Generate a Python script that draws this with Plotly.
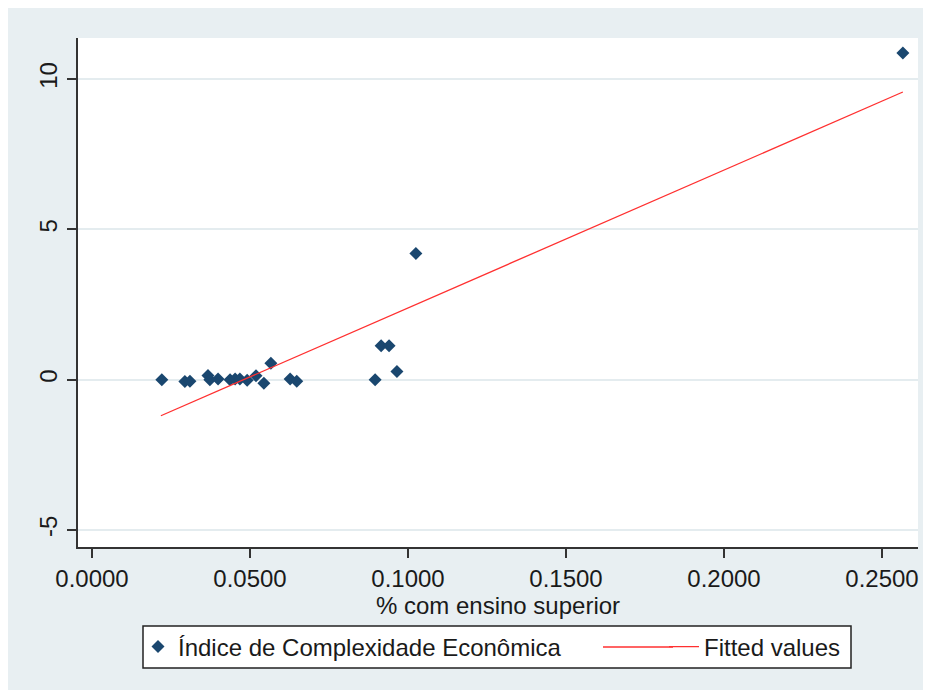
import plotly.graph_objects as go

# Data
x_vals = [0.0221, 0.0294, 0.0310, 0.0367, 0.0373, 0.0399, 0.0437, 0.0453, 0.0468,
          0.0491, 0.0519, 0.0544, 0.0566, 0.0627, 0.0648, 0.0896, 0.0915, 0.0940,
          0.0965, 0.1025, 0.2566]
y_vals = [0.00, -0.06, -0.05, 0.14, 0.00, 0.02, 0.00, 0.02, 0.02,
          -0.02, 0.13, -0.12, 0.55, 0.02, -0.05, 0.00, 1.13, 1.13,
          0.27, 4.20, 10.87]
fit_x = [0.0218, 0.2566]
fit_y = [-1.20, 9.57]
x_ticks = [0.0, 0.05, 0.10, 0.15, 0.20, 0.25]
y_ticks = [-5, 0, 5, 10]
y_tick_text = ["-5", "0", "5", "10"]

W, H = 931, 690
L, R, T, B = 70, 21, 30, 151
pw, ph = W - L - R, H - T - B

def px_x(p):
    return (p - L) / pw

def px_y(p):
    return (H - B - p) / ph

bg = "#e8eff2"
tick_font = dict(family="Liberation Sans, Arial, sans-serif", size=24, color="#1a1a1a")
leg_font = dict(family="Liberation Sans, Arial, sans-serif", size=24, color="#1a1a1a")
red = "#ff3030"

fig = go.Figure()
fig.add_trace(go.Scatter(
    x=x_vals, y=y_vals, mode="markers",
    name="Índice de Complexidade Econômica",
    marker=dict(symbol="diamond", size=10, color="#1a476f"),
    legend="legend",
))
fig.add_trace(go.Scatter(
    x=fit_x, y=fit_y, mode="lines", name="Fitted values",
    line=dict(color=red, width=1.3),
    legend="legend2",
))

box = dict(x0=135, x1=843, y0=618, y1=660)
ymid = (box["y0"] + box["y1"]) / 2

fig.update_layout(
    width=W, height=H,
    margin=dict(l=L, r=R, t=T, b=B, pad=0),
    paper_bgcolor=bg, plot_bgcolor="white",
    font=tick_font,
    showlegend=True,
    legend=dict(
        x=px_x(130), xanchor="left", y=px_y(ymid), yanchor="middle",
        bgcolor="rgba(0,0,0,0)", borderwidth=0, font=leg_font,
    ),
    legend2=dict(
        x=px_x(656), xanchor="left", y=px_y(ymid), yanchor="middle",
        bgcolor="rgba(0,0,0,0)", borderwidth=0, font=leg_font,
    ),
    shapes=[
        dict(type="rect", xref="paper", yref="paper", layer="below",
             x0=px_x(box["x0"]), x1=px_x(box["x1"]),
             y0=px_y(box["y1"]), y1=px_y(box["y0"]),
             fillcolor="white", line=dict(color="#222", width=1.5)),
        dict(type="line", xref="paper", yref="paper", layer="below",
             x0=px_x(595), x1=px_x(665), y0=px_y(ymid), y1=px_y(ymid),
             line=dict(color=red, width=1.3)),
    ],
)

fig.update_xaxes(
    range=[(70 - 84) / 3160, (910 - 84) / 3160],
    tickvals=x_ticks, tickformat=".4f",
    showgrid=False, zeroline=False,
    showline=True, linecolor="#333", linewidth=1.5,
    ticks="outside", ticklen=9, tickwidth=1.5, tickcolor="#333",
    tickfont=tick_font,
    title=dict(text="% com ensino superior", font=tick_font, standoff=0),
)
fig.update_yaxes(
    range=[-5 - (547 - 530) / 30, 10 + (79 - 38) / 30],
    tickvals=y_ticks, ticktext=y_tick_text, tickangle=-90,
    showgrid=True, gridcolor="#e4ecef", gridwidth=2, zeroline=False,
    showline=True, linecolor="#333", linewidth=1.5,
    ticks="outside", ticklen=9, tickwidth=1.5, tickcolor="#333",
    tickfont=tick_font, ticklabelstandoff=1,
)

fig.write_html("out.html")
